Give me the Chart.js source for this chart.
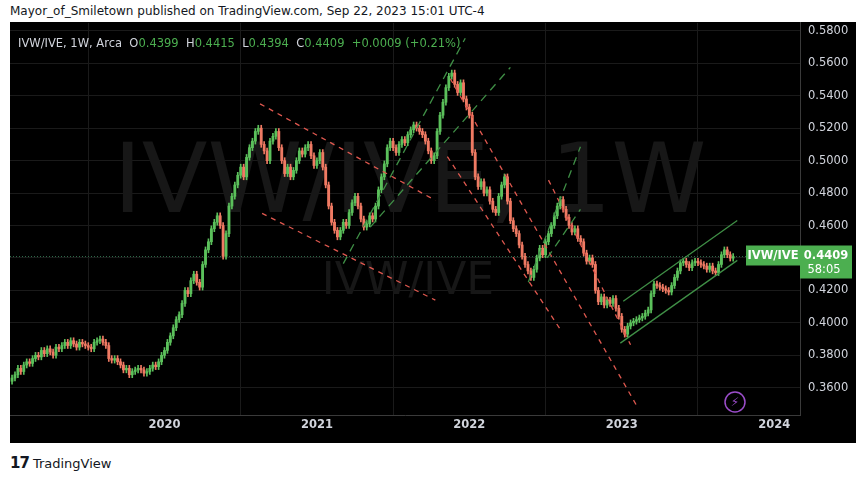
<!DOCTYPE html>
<html>
<head>
<meta charset="utf-8">
<script src="https://cdn.jsdelivr.net/npm/chart.js@4"></script>
<style>
  body { margin: 0; background: #fff; width: 865px; height: 480px; overflow: hidden; font-family: "DejaVu Sans", sans-serif; }
  #head { position: absolute; left: 10px; top: 4px; font-size: 12px; color: #131722; }
  #box { position: absolute; left: 10px; top: 22px; width: 846px; height: 421px; background: #000; }
  #c { position: absolute; left: 0; top: -14px; }
  #legend { position: absolute; left: 8px; top: 14px; font-size: 11.5px; color: #d1d4dc; z-index: 2; white-space: pre; }
  #legend b { font-weight: normal; color: #4caf50; }
  #foot { position: absolute; left: 10px; top: 454px; font-size: 13px; color: #131722; }
  #foot span { font-weight: bold; font-size: 15px; letter-spacing: -1px; margin-right: 4px; }
</style>
</head>
<body>
<div id="head">Mayor_of_Smiletown published on TradingView.com, Sep 22, 2023 15:01 UTC-4</div>
<div id="box">
  <canvas id="c" width="846" height="435"></canvas>
  <div id="legend">IVW/IVE, 1W, Arca  O<b>0.4399</b>  H<b>0.4415</b>  L<b>0.4394</b>  C<b>0.4409</b>  <b>+0.0009 (+0.21%)</b></div>
</div>
<div id="foot"><span>17</span>TradingView</div>
<script>
// weekly closes, Jan 2019 .. Sep 2023
const closes2019 = [0.366,0.368,0.372,0.370,0.374,0.376,0.375,0.378,0.380,0.379,0.383,0.381,0.384,0.382,0.380,0.385,0.384,0.386,0.388,0.386,0.389,0.387,0.385,0.388,0.387,0.386,0.385,0.384,0.388,0.389,0.390,0.388,0.386,0.378,0.377,0.378,0.376,0.374,0.371,0.372,0.368,0.370,0.371,0.372,0.371,0.369,0.370,0.372,0.374,0.373,0.376,0.380];
const closes2020 = [0.383,0.388,0.392,0.397,0.402,0.405,0.412,0.420,0.418,0.426,0.430,0.425,0.422,0.436,0.445,0.450,0.458,0.462,0.466,0.460,0.441,0.455,0.472,0.478,0.485,0.491,0.496,0.490,0.502,0.508,0.512,0.518,0.520,0.510,0.506,0.500,0.512,0.515,0.518,0.508,0.500,0.492,0.496,0.490,0.494,0.500,0.506,0.504,0.508,0.510,0.503,0.497];
const closes2021 = [0.500,0.505,0.496,0.485,0.472,0.462,0.457,0.453,0.457,0.462,0.460,0.468,0.474,0.478,0.472,0.464,0.459,0.461,0.466,0.464,0.472,0.482,0.490,0.498,0.508,0.512,0.508,0.505,0.510,0.513,0.511,0.516,0.519,0.522,0.520,0.518,0.516,0.512,0.506,0.500,0.503,0.518,0.528,0.536,0.545,0.552,0.554,0.547,0.542,0.548,0.538,0.533];
const closes2022 = [0.528,0.505,0.490,0.484,0.487,0.480,0.482,0.475,0.470,0.468,0.478,0.485,0.490,0.475,0.463,0.458,0.455,0.448,0.441,0.436,0.432,0.428,0.433,0.440,0.446,0.442,0.450,0.455,0.460,0.466,0.472,0.476,0.470,0.465,0.460,0.456,0.458,0.452,0.450,0.443,0.438,0.440,0.436,0.420,0.413,0.416,0.411,0.414,0.412,0.415,0.409,0.404];
const closes2023 = [0.396,0.393,0.398,0.400,0.401,0.402,0.403,0.404,0.406,0.408,0.418,0.424,0.423,0.422,0.421,0.420,0.419,0.423,0.428,0.432,0.437,0.438,0.436,0.434,0.437,0.438,0.437,0.436,0.435,0.433,0.435,0.432,0.431,0.436,0.442,0.445,0.442,0.4399,0.4409];
const closes = [...closes2019, ...closes2020, ...closes2021, ...closes2022, ...closes2023];
const firstOpen = 0.364;
const yearTicks = [52, 104, 156, 208, 260];
const yearLabels = ['2020', '2021', '2022', '2023', '2024'];
const priceTicks = [0.36,0.38,0.40,0.42,0.44,0.46,0.48,0.50,0.52,0.54,0.56,0.58];
const lastPrice = 0.4409;

// drawn trend lines, [week, price] pairs
const redLines = [
  [[84.6,0.535],[144.4,0.4755]],
  [[85.3,0.4675],[144.4,0.414]],
  [[149.5,0.5505],[213.7,0.3470]],
  [[148.5,0.5025],[187.0,0.3960]],
  [[183.0,0.4880],[211.0,0.3865]]
];
const greenDashed = [
  [[113.0,0.4365],[154.6,0.5754]],
  [[122.2,0.4590],[170.0,0.5575]],
  [[176.1,0.4250],[193.9,0.5086]],
  [[182.6,0.4400],[193.9,0.4700]]
];
const greenSolid = [
  [[208.5,0.4133],[247.4,0.4631]],
  [[207.5,0.3875],[247.4,0.4385]]
];

const GREEN = '#5bc05b', RED = '#ef7a63';
const opens = closes.map((c, i) => i === 0 ? firstOpen : closes[i - 1]);
const bodies = closes.map((c, i) => ({ x: i, y: [opens[i], c === opens[i] ? c + 0.0003 : c] }));
const wicks = closes.map((c, i) => ({ x: i, y: [Math.min(opens[i], c) - 0.0018, Math.max(opens[i], c) + 0.0018] }));
const colors = closes.map((c, i) => c >= opens[i] ? GREEN : RED);

const overlay = {
  id: 'overlay',
  beforeDatasetsDraw(chart) {
    const { ctx, chartArea: a, scales: { x, y } } = chart;
    ctx.save();
    ctx.fillStyle = '#171717';
    ctx.textAlign = 'center';
    ctx.font = '96px "DejaVu Sans"';
    ctx.fillText('IVW/IVE, 1W', 400, 204);
    ctx.font = '44px "DejaVu Sans"';
    ctx.fillText('IVW/IVE', 398, 286);
    // last price dotted line
    const ly = y.getPixelForValue(lastPrice);
    ctx.strokeStyle = '#2e6b4a';
    ctx.setLineDash([1, 2]);
    ctx.beginPath(); ctx.moveTo(a.left, ly); ctx.lineTo(a.right, ly); ctx.stroke();
    ctx.restore();
  },
  afterDatasetsDraw(chart) {
    const { ctx, chartArea: a, scales: { x, y } } = chart;
    ctx.save();
    ctx.beginPath(); ctx.rect(a.left, a.top, a.right - a.left, a.bottom - a.top); ctx.clip();
    const draw = (lines, color, dash) => {
      ctx.strokeStyle = color; ctx.lineWidth = 1.3; ctx.setLineDash(dash);
      lines.forEach(l => {
        ctx.beginPath();
        ctx.moveTo(x.getPixelForValue(l[0][0]), y.getPixelForValue(l[0][1]));
        ctx.lineTo(x.getPixelForValue(l[1][0]), y.getPixelForValue(l[1][1]));
        ctx.stroke();
      });
    };
    draw(redLines, '#e0584f', [5, 5]);
    draw(greenDashed, '#3f8f46', [8, 6]);
    draw(greenSolid, '#3f8f46', []);
    ctx.restore();
    // lightning badge
    ctx.save();
    ctx.strokeStyle = '#9b4dca'; ctx.lineWidth = 1.5;
    ctx.beginPath(); ctx.arc(725, 394, 10, 0, Math.PI * 2); ctx.stroke();
    ctx.fillStyle = '#9b4dca'; ctx.font = '12px "DejaVu Sans"'; ctx.textAlign = 'center'; ctx.textBaseline = 'middle';
    ctx.fillText('⚡', 725, 395);
    // last price tag
    const ly = y.getPixelForValue(lastPrice);
    ctx.fillStyle = '#4caf50';
    ctx.fillRect(736, ly - 11, 54, 20);
    ctx.fillRect(790, ly - 11, 52, 33);
    ctx.fillStyle = '#fff'; ctx.font = 'bold 11.5px "DejaVu Sans"';
    ctx.fillText('IVW/IVE', 763, ly);
    ctx.fillText('0.4409', 816, ly);
    ctx.font = '11.5px "DejaVu Sans"';
    ctx.fillText('58:05', 814, ly + 14);
    ctx.restore();
  }
};

new Chart(document.getElementById('c'), {
  type: 'bar',
  data: {
    datasets: [
      { data: wicks, backgroundColor: colors, barThickness: 1, grouped: false, order: 2 },
      { data: bodies, backgroundColor: colors, barThickness: 2.2, grouped: false, order: 1 }
    ]
  },
  options: {
    responsive: false, animation: false,
    layout: { padding: 0 },
    plugins: { legend: { display: false }, tooltip: { enabled: false } },
    scales: {
      x: {
        type: 'linear', min: -0.7, max: 268.8, offset: false,
        afterBuildTicks: s => { s.ticks = yearTicks.map(v => ({ value: v })); },
        afterFit: s => { s.height = 28; },
        ticks: { color: '#d1d4dc', font: { size: 11.5, weight: 'bold', family: 'DejaVu Sans' }, callback: (v) => yearLabels[yearTicks.indexOf(v)], maxRotation: 0 },
        grid: { color: '#1a1a1a', drawTicks: false },
        border: { color: '#3a3a3a' }
      },
      y: {
        position: 'right', min: 0.3432, max: 0.5849,
        afterBuildTicks: s => { s.ticks = priceTicks.map(v => ({ value: v })); },
        afterFit: s => { s.width = 56; },
        ticks: { color: '#d1d4dc', font: { size: 11.5, family: 'DejaVu Sans' }, padding: 8, callback: v => v.toFixed(4) },
        grid: { color: '#1a1a1a', drawTicks: false },
        border: { color: '#3a3a3a' }
      }
    }
  },
  plugins: [overlay]
});
</script>
</body>
</html>
